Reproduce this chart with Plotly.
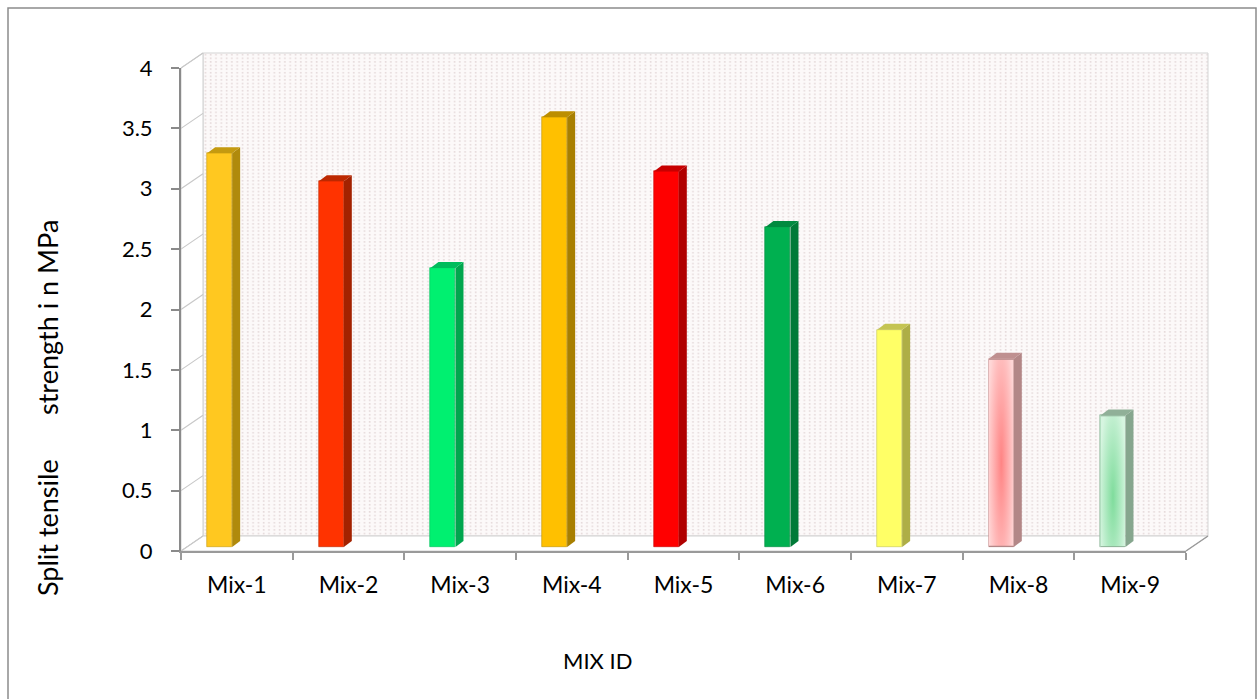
import base64
import plotly.graph_objects as go

# Split tensile strength per mix
mix_ids = ["Mix-1", "Mix-2", "Mix-3", "Mix-4", "Mix-5", "Mix-6", "Mix-7", "Mix-8", "Mix-9"]
strength = [3.26, 3.03, 2.31, 3.56, 3.11, 2.65, 1.80, 1.56, 1.09]

front_colors = ["#FFC820", "#FF3300", "#00F070", "#FFC000", "#FF0000",
                "#00B050", "#FFFF66", "#FFB3B3", "#B9ECC9"]
side_colors = ["#B08A0C", "#A32200", "#00A64E", "#A87F00", "#B00000",
               "#007A37", "#AEAE46", "#B38787", "#86A68E"]
top_colors = ["#C49A10", "#BD2800", "#00BC5C", "#BC8E00", "#C80000",
              "#008A3F", "#C4C452", "#BF9090", "#90B098"]
# soft-glow fills: (centre colour, edge colour, vertical centre) for the pale bars
glow_fills = {7: ("#FF8484", "#FFD6D6", 0.55), 8: ("#7FDC9C", "#D6F5E0", 0.62)}

y_ticks = [0, 0.5, 1, 1.5, 2, 2.5, 3, 3.5, 4]

W, H = 1258, 699
L, R, T, B = 181, 1186, 68, 551          # front plotting frame in pixels
DX, DY = 22, 15                          # depth offset of the back wall

def px(x):
    return (x - L) / (R - L)

def py(y):
    return (B - y) / (B - T)

# bar geometry in category / value units
BAR_OFF, BAR_W = -0.266, 0.224
SIDE_DX = 8 / ((R - L) / len(mix_ids))
SIDE_DY = 6 / ((B - T) / 4)
LIFT = 4 / ((B - T) / 4)                 # bars stand slightly behind the front edge

def svg_uri(svg):
    return "data:image/svg+xml;base64," + base64.b64encode(svg.encode()).decode()

fig = go.Figure()

fig.add_trace(go.Bar(
    x=list(range(len(mix_ids))), y=strength,
    width=BAR_W, offset=BAR_OFF,
    marker=dict(color=front_colors, line=dict(color=top_colors, width=0.6)),
    yaxis="y2", showlegend=False, hoverinfo="skip",
))
# invisible trace keeps the category labels on the primary axis
fig.add_trace(go.Scatter(x=mix_ids, y=[None] * len(mix_ids), xaxis="x2",
                         showlegend=False, hoverinfo="skip"))

shapes = []

def poly(pts, fill, line, width=1, layer="below"):
    d = "M " + " L ".join(f"{px(a):.5f},{py(b):.5f}" for a, b in pts) + " Z"
    shapes.append(dict(type="path", path=d, xref="paper", yref="paper",
                       fillcolor=fill, line=dict(color=line, width=width), layer=layer))

def seg(x0, y0, x1, y1, color, width=1, layer="below"):
    shapes.append(dict(type="line", xref="paper", yref="paper",
                       x0=px(x0), y0=py(y0), x1=px(x1), y1=py(y1),
                       line=dict(color=color, width=width), layer=layer))

# chart border
shapes.append(dict(type="rect", xref="paper", yref="paper",
                   x0=px(8), y0=py(8), x1=px(1256), y1=py(705),
                   line=dict(color="#8C8C8C", width=1.5), fillcolor="rgba(0,0,0,0)",
                   layer="below"))
# back wall outline (its dotted fill is a background image)
poly([(L + DX, T - DY), (R + DX, T - DY), (R + DX, B - DY), (L + DX, B - DY)],
     "rgba(0,0,0,0)", "#D4D4D4")
# side wall
poly([(L, T), (L + DX, T - DY), (L + DX, B - DY), (L, B)], "#FFFFFF", "#D0D0D0")
# floor
poly([(L, B), (L + DX, B - DY), (R + DX, B - DY), (R, B)], "#FFFFFF", "#D0D0D0")
# gridlines along the side wall
for t in y_ticks:
    yy = B - t / 4 * (B - T)
    seg(L, yy, L + DX, yy - DY, "#C8C8C8", 1.2)
seg(R, B, R + DX, B - DY, "#9A9A9A", 1.5)

# side and top faces of each bar
for i, v in enumerate(strength):
    xl = i + BAR_OFF
    xr = xl + BAR_W
    side = (f"M {xr},0 L {xr + SIDE_DX},{SIDE_DY} L {xr + SIDE_DX},{v + SIDE_DY} "
            f"L {xr},{v} Z")
    top = (f"M {xl},{v} L {xl + SIDE_DX},{v + SIDE_DY} L {xr + SIDE_DX},{v + SIDE_DY} "
           f"L {xr},{v} Z")
    shapes.append(dict(type="path", path=side, xref="x", yref="y2",
                       fillcolor=side_colors[i], line=dict(width=0), layer="above"))
    shapes.append(dict(type="path", path=top, xref="x", yref="y2",
                       fillcolor=top_colors[i], line=dict(width=0), layer="above"))

# dotted fill of the back wall
wall_w, wall_h = R - L, B - T
wall_svg = (
    f'<svg xmlns="http://www.w3.org/2000/svg" width="{wall_w}" height="{wall_h}" '
    f'viewBox="0 0 {wall_w} {wall_h}">'
    '<defs><pattern id="d" width="5.3" height="3.6" patternUnits="userSpaceOnUse">'
    '<rect x="1.6" y="1" width="1.6" height="1.4" fill="#D9C9CB" fill-opacity="0.75"/>'
    '</pattern></defs>'
    f'<rect width="{wall_w}" height="{wall_h}" fill="#FCF9F9"/>'
    f'<rect width="{wall_w}" height="{wall_h}" fill="url(#d)"/></svg>'
)
images = [dict(source=svg_uri(wall_svg), xref="paper", yref="paper",
               x=px(L + DX), y=py(T - DY), sizex=1.0, sizey=1.0,
               xanchor="left", yanchor="top", sizing="stretch", layer="below")]

# glowing front faces of the pale bars
for i, (inner, outer, cy) in glow_fills.items():
    v = strength[i]
    glow_svg = (
        '<svg xmlns="http://www.w3.org/2000/svg" width="100" height="100" '
        'viewBox="0 0 100 100" preserveAspectRatio="none">'
        f'<defs><radialGradient id="g" cx="0.5" cy="{cy}" r="0.5" fx="0.5" fy="{cy}" '
        'gradientTransform="translate(0.5 %s) scale(1.1 1.6) translate(-0.5 -%s)">'
        % (cy, cy) +
        f'<stop offset="0" stop-color="{inner}"/><stop offset="1" stop-color="{outer}"/>'
        '</radialGradient></defs>'
        f'<rect width="100" height="100" fill="url(#g)" stroke="{side_colors[i]}" '
        'stroke-width="1.2" vector-effect="non-scaling-stroke"/></svg>'
    )
    images.append(dict(source=svg_uri(glow_svg), xref="x", yref="y2",
                       x=i + BAR_OFF, y=v, sizex=BAR_W, sizey=v,
                       xanchor="left", yanchor="top", sizing="stretch", layer="above"))

font = "Lato, 'Open Sans', sans-serif"

annotations = [
    dict(text="MIX ID", x=px(597), y=py(660), xref="paper", yref="paper",
         xanchor="center", yanchor="middle",
         showarrow=False, font=dict(size=22, color="#000000", family=font)),
    dict(text="Split tensile", x=px(47), y=py(528), xref="paper", yref="paper",
         xanchor="center", yanchor="middle",
         textangle=-90, showarrow=False, font=dict(size=27, color="#000000", family=font)),
    dict(text="strength i n MPa", x=px(47), y=py(318), xref="paper", yref="paper",
         xanchor="center", yanchor="middle",
         textangle=-90, showarrow=False, font=dict(size=27, color="#000000", family=font)),
]

fig.update_layout(
    width=W, height=H,
    margin=dict(l=L, r=W - R, t=T, b=H - B, pad=0),
    paper_bgcolor="#FFFFFF", plot_bgcolor="rgba(0,0,0,0)",
    font=dict(family=font, size=20, color="#000000"),
    images=images,
    xaxis=dict(range=[-0.5, len(mix_ids) - 0.5], showticklabels=False,
               showgrid=False, zeroline=False, fixedrange=True),
    xaxis2=dict(type="category", overlaying="x", side="bottom", anchor="y",
                categoryorder="array", categoryarray=mix_ids,
                range=[-0.5, len(mix_ids) - 0.5],
                showline=True, linecolor="#9A9A9A", linewidth=2,
                ticks="outside", tickson="boundaries", ticklen=7,
                tickcolor="#9A9A9A", tickwidth=1.5, showgrid=False,
                ticklabelstandoff=12, tickfont=dict(size=23)),
    yaxis=dict(range=[0, 4], tickvals=y_ticks, ticktext=[f"{t:g}" for t in y_ticks],
               showline=True, linecolor="#8A8A8A", linewidth=2,
               ticks="outside", ticklen=8, tickcolor="#8A8A8A", tickwidth=1.5,
               showgrid=False, zeroline=False, ticklabelstandoff=14,
               tickfont=dict(size=22)),
    yaxis2=dict(range=[-LIFT, 4 - LIFT], overlaying="y", visible=False),
    shapes=shapes, annotations=annotations, bargap=0,
)

fig.write_html("out.html")
